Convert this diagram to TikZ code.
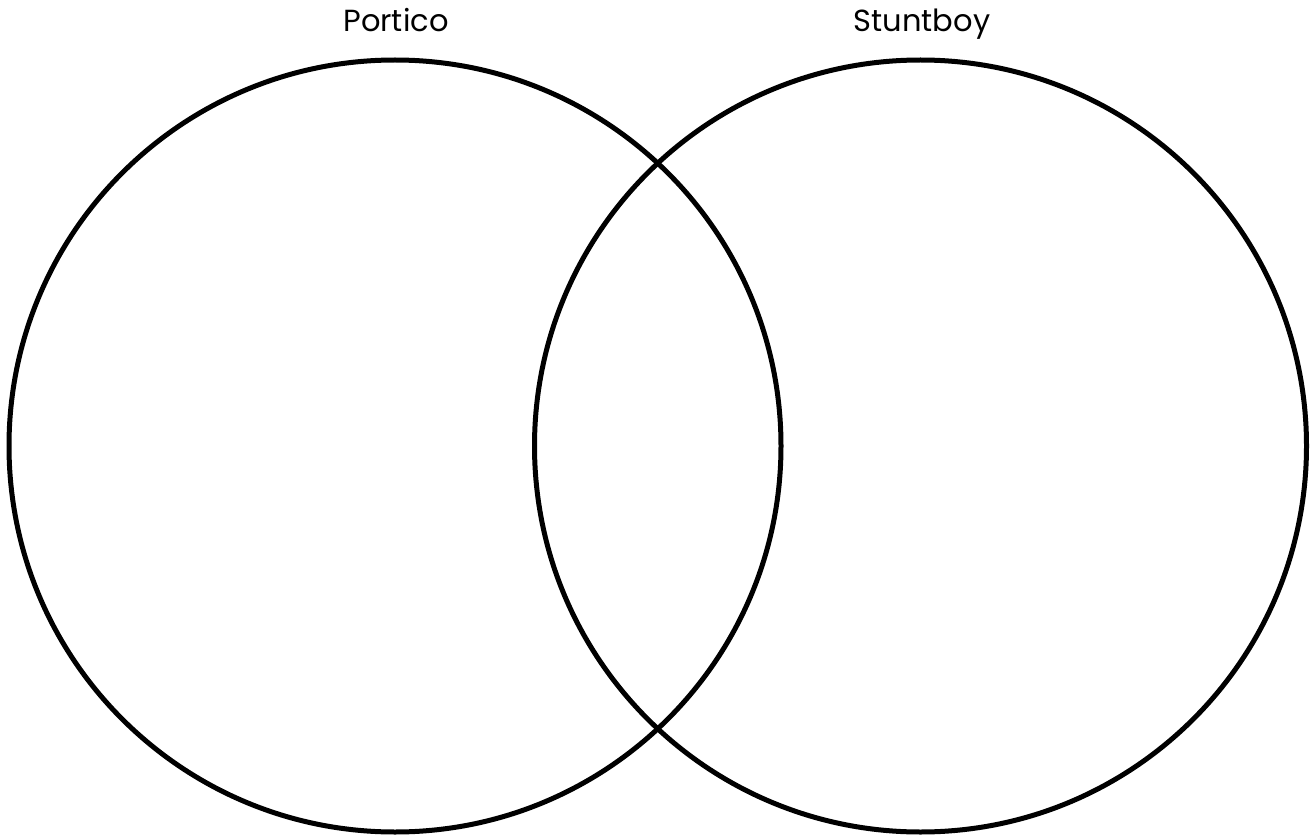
\documentclass[tikz,border=0pt]{standalone}
\usepackage{fontspec}
\setmainfont{Poppins}
\begin{document}
\begin{tikzpicture}[x=1pt,y=-1pt,
  venn/.style={draw=black,line width=5pt,circle,minimum size=772pt,inner sep=0pt},
  lbl/.style={font=\fontsize{30.5}{36}\selectfont,inner sep=0pt,anchor=base}]
\useasboundingbox (0,0) rectangle (1312,837);
\node[venn] (portico) at (395,446) {};
\node[venn] (stuntboy) at (920.5,446) {};
\node[lbl] (lp) at (396,32) {Portico};
\node[lbl] (ls) at (922,32) {Stuntboy};
\end{tikzpicture}
\end{document}
